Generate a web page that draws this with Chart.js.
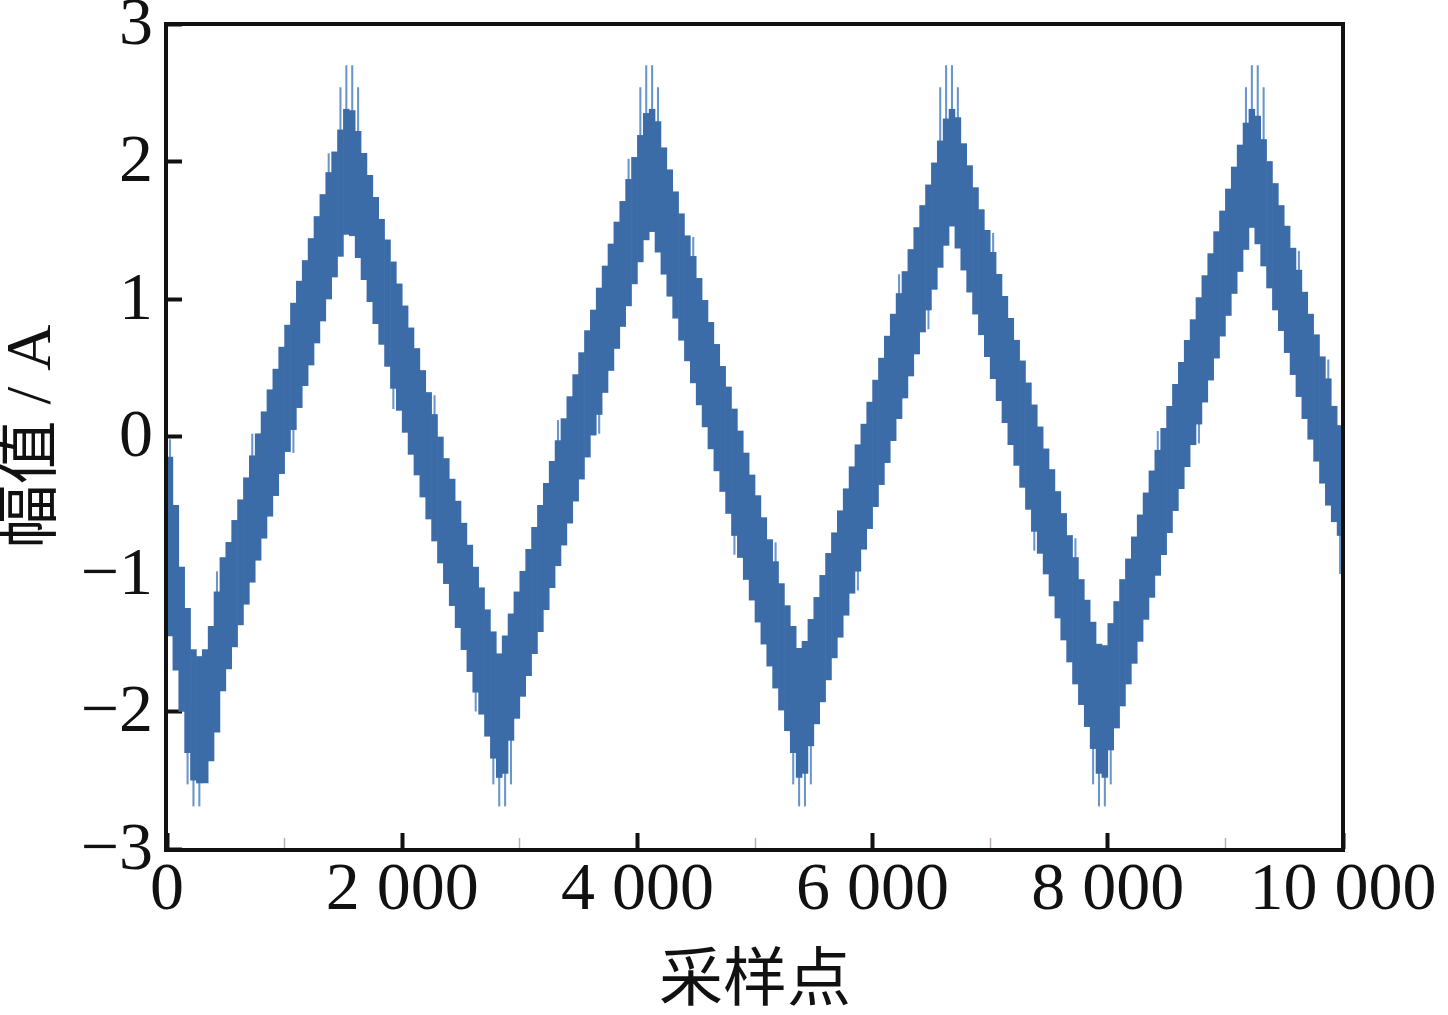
<!DOCTYPE html>
<html>
<head>
<meta charset="utf-8">
<script src="https://cdn.jsdelivr.net/npm/chart.js@4.4.0/dist/chart.umd.min.js"></script>
<style>
  html, body { margin: 0; padding: 0; background: #fff; }
  #wrap { width: 1448px; height: 1015px; }
</style>
</head>
<body>
<div id="wrap"><canvas id="chart" width="1448" height="1015"></canvas></div>
<script>
// signal band in bins of 50 samples (min / max of each bin)
const binWidth = 50;
const binLow = [
  -1.45, -1.70, -2.00, -2.30, -2.50, -2.52, -2.52, -2.36, -2.15, -1.85,
  -1.69, -1.53, -1.37, -1.22, -1.06, -0.90, -0.74, -0.58, -0.43, -0.27,
  -0.11,  0.05,  0.21,  0.37,  0.52,  0.68,  0.84,  1.00,  1.16,  1.31,
   1.47,  1.46,  1.30,  1.14,  0.98,  0.82,  0.67,  0.51,  0.35,  0.19,
   0.03, -0.13, -0.28, -0.44, -0.60, -0.76, -0.92, -1.07, -1.23, -1.39,
  -1.55, -1.71, -1.86, -2.02, -2.18, -2.34, -2.48, -2.45, -2.21, -2.05,
  -1.89, -1.74, -1.58, -1.42, -1.26, -1.10, -0.94, -0.79, -0.63, -0.47,
  -0.31, -0.15,  0.01,  0.16,  0.32,  0.48,  0.64,  0.80,  0.95,  1.11,
   1.27,  1.43,  1.49,  1.34,  1.18,  1.02,  0.86,  0.70,  0.55,  0.39,
   0.23,  0.07, -0.09, -0.25, -0.40, -0.56, -0.72, -0.88, -1.04, -1.19,
  -1.35, -1.51, -1.67, -1.83, -1.99, -2.14, -2.30, -2.48, -2.45, -2.25,
  -2.09, -1.93, -1.77, -1.61, -1.46, -1.30, -1.14, -0.98, -0.82, -0.67,
  -0.51, -0.35, -0.19, -0.03,  0.13,  0.28,  0.44,  0.60,  0.76,  0.92,
   1.07,  1.23,  1.39,  1.53,  1.37,  1.21,  1.05,  0.89,  0.74,  0.58,
   0.42,  0.26,  0.10, -0.06, -0.21, -0.37, -0.53, -0.69, -0.85, -1.00,
  -1.16, -1.32, -1.48, -1.64, -1.80, -1.95, -2.11, -2.27, -2.45, -2.48,
  -2.28, -2.12, -1.96, -1.80, -1.65, -1.49, -1.33, -1.17, -1.01, -0.86,
  -0.70, -0.54, -0.38, -0.22, -0.06,  0.09,  0.25,  0.41,  0.57,  0.73,
   0.88,  1.04,  1.20,  1.36,  1.52,  1.40,  1.24,  1.08,  0.92,  0.77,
   0.61,  0.45,  0.29,  0.13, -0.02, -0.18, -0.34, -0.50, -0.62, -0.72
];
const binHigh = [
  -0.15, -0.50, -0.95, -1.25, -1.55, -1.60, -1.55, -1.38, -1.13, -0.88,
  -0.77, -0.61, -0.46, -0.30, -0.14,  0.02,  0.18,  0.34,  0.49,  0.65,
   0.81,  0.97,  1.13,  1.28,  1.44,  1.60,  1.76,  1.92,  2.07,  2.23,
   2.38,  2.37,  2.22,  2.06,  1.90,  1.74,  1.58,  1.43,  1.27,  1.11,
   0.95,  0.79,  0.64,  0.48,  0.32,  0.16,  0.00, -0.16, -0.31, -0.47,
  -0.63, -0.79, -0.95, -1.10, -1.26, -1.42, -1.58, -1.45, -1.29, -1.13,
  -0.98, -0.82, -0.66, -0.50, -0.34, -0.18, -0.03,  0.13,  0.29,  0.45,
   0.61,  0.77,  0.92,  1.08,  1.24,  1.40,  1.56,  1.71,  1.87,  2.03,
   2.19,  2.35,  2.38,  2.29,  2.10,  1.94,  1.78,  1.62,  1.46,  1.31,
   1.15,  0.99,  0.83,  0.67,  0.51,  0.36,  0.20,  0.04, -0.12, -0.28,
  -0.43, -0.59, -0.75, -0.91, -1.07, -1.23, -1.38, -1.54, -1.49, -1.33,
  -1.17, -1.01, -0.85, -0.70, -0.54, -0.38, -0.22, -0.06,  0.09,  0.25,
   0.41,  0.57,  0.73,  0.89,  1.04,  1.20,  1.36,  1.52,  1.68,  1.83,
   1.99,  2.15,  2.31,  2.38,  2.32,  2.13,  1.97,  1.81,  1.65,  1.50,
   1.34,  1.18,  1.02,  0.86,  0.70,  0.55,  0.39,  0.23,  0.07, -0.09,
  -0.24, -0.40, -0.56, -0.72, -0.88, -1.04, -1.19, -1.35, -1.51, -1.52,
  -1.36, -1.20, -1.04, -0.89, -0.73, -0.57, -0.41, -0.25, -0.10,  0.06,
   0.22,  0.38,  0.54,  0.70,  0.85,  1.01,  1.17,  1.33,  1.49,  1.64,
   1.80,  1.96,  2.12,  2.28,  2.38,  2.33,  2.16,  2.00,  1.84,  1.68,
   1.53,  1.37,  1.21,  1.05,  0.89,  0.74,  0.58,  0.42,  0.22,  0.08
];
// sample index at the middle of each bin
const binCenter = binLow.map((_, i) => i * binWidth + binWidth / 2);

// single noise spikes sticking out of the band (lighter strokes)
const spikeAt = [
  25, 175, 225, 275, 425, 725, 1075, 1375, 1475, 1525, 1575, 1625, 1925, 2275,
  2625, 2775, 2825, 2875, 2925, 3325, 3675, 3925, 4025, 4075, 4125, 4175, 4475, 4825,
  5175, 5325, 5375, 5425, 5475, 5875, 6225, 6475, 6575, 6625, 6675, 6725, 7025, 7375,
  7725, 7875, 7925, 7975, 8025, 8425, 8775, 9175, 9225, 9275, 9325, 9625, 9875, 9975
];
const spikeLow = [
  -0.60, -2.53, -2.69, -2.69, -1.50, -0.45, -0.12, 1.60, 1.90, 2.00, 2.00, 1.90, 0.20, -0.20,
  -2.00, -2.53, -2.69, -2.69, -2.53, -0.40, 0.02, 1.50, 1.90, 2.00, 2.00, 1.90, 0.90, -0.86,
  -1.30, -2.53, -2.69, -2.69, -2.53, -1.12, 0.60, 0.78, 1.90, 2.00, 2.00, 1.90, 0.90, -0.83,
  -1.30, -2.53, -2.69, -2.69, -2.53, -0.50, -0.05, 1.90, 2.00, 2.00, 1.90, 0.80, 0.00, -1.00
];
const spikeHigh = [
  -0.02, -2.00, -2.20, -2.20, -0.98, 0.02, 0.25, 2.06, 2.54, 2.70, 2.70, 2.54, 0.55, 0.30,
  -1.50, -2.10, -2.30, -2.30, -2.00, 0.12, 0.45, 2.02, 2.54, 2.70, 2.70, 2.54, 1.45, -0.30,
  -0.77, -2.10, -2.30, -2.30, -2.00, -0.60, 1.18, 1.20, 2.54, 2.70, 2.70, 2.54, 1.48, -0.30,
  -0.74, -2.10, -2.30, -2.30, -2.00, 0.04, 0.40, 2.54, 2.70, 2.70, 2.54, 1.35, 0.56, -0.50
];

const xTickValues = [0, 2000, 4000, 6000, 8000, 10000];
const xTickLabels = ['0', '2 000', '4 000', '6 000', '8 000', '10 000'];
const yTickValues = [-3, -2, -1, 0, 1, 2, 3];
const yTickLabels = ['\u22123', '\u22122', '\u22121', '0', '1', '2', '3'];

const SERIF = "'Liberation Serif', 'Times New Roman', 'Noto Sans CJK SC', serif";
const INK = '#111';

const bandBars = binLow.map((lo, i) => ({ x: binCenter[i], y: [lo, binHigh[i]] }));
const spikeBars = spikeAt.map((x, i) => ({ x: x, y: [spikeLow[i], spikeHigh[i]] }));

// black box round the plot area
const framePlugin = {
  id: 'frame',
  afterDraw(chart) {
    const { ctx, chartArea: a } = chart;
    ctx.save();
    ctx.strokeStyle = INK;
    ctx.lineWidth = 4;
    ctx.strokeRect(a.left - 1, a.top, a.right - a.left + 1, a.bottom - a.top + 1);
    ctx.restore();
  }
};

new Chart(document.getElementById('chart'), {
  type: 'bar',
  data: {
    datasets: [
      {
        label: 'band',
        data: bandBars,
        backgroundColor: 'rgb(60, 108, 168)',
        borderWidth: 0,
        grouped: false,
        categoryPercentage: 1,
        barPercentage: 1,
        order: 0
      },
      {
        label: 'spikes',
        data: spikeBars,
        backgroundColor: 'rgba(88, 138, 198, 0.9)',
        borderWidth: 0,
        grouped: false,
        categoryPercentage: 1,
        barPercentage: 0.35,
        order: 1
      }
    ]
  },
  options: {
    responsive: false,
    animation: false,
    layout: { padding: { left: 0, right: 105, top: 24, bottom: 0 } },
    plugins: {
      legend: { display: false },
      tooltip: { enabled: false }
    },
    scales: {
      xMinor: {
        type: 'linear',
        position: 'bottom',
        weight: 0,
        min: 0,
        max: 10000,
        offset: false,
        ticks: { display: false, stepSize: 1000 },
        grid: {
          offset: false,
          drawOnChartArea: false,
          tickLength: -11,
          tickWidth: 1.5,
          tickColor: (c) => (c.tick && c.tick.value % 2000 !== 0) ? '#bdaeae' : 'rgba(0,0,0,0)'
        },
        border: { display: false },
        afterFit: (s) => { s.height = 0; s.paddingLeft = 0; s.paddingRight = 0; }
      },
      x: {
        type: 'linear',
        position: 'bottom',
        weight: 1,
        min: 0,
        max: 10000,
        offset: false,
        ticks: {
          stepSize: 2000,
          autoSkip: false,
          maxRotation: 0,
          minRotation: 0,
          padding: 24,
          color: INK,
          font: { family: SERIF, size: 68, lineHeight: 1 },
          callback: (v) => xTickLabels[xTickValues.indexOf(v)]
        },
        grid: { offset: false, drawOnChartArea: false, tickLength: -16, tickWidth: 4, tickColor: INK },
        border: { display: false },
        title: {
          display: true,
          text: '采样点',
          color: INK,
          font: { family: SERIF, size: 64, lineHeight: 1 },
          padding: { top: 0, bottom: 0 }
        },
        afterFit: (s) => { s.height = 166; s.paddingLeft = 0; s.paddingRight = 0; }
      },
      y: {
        type: 'linear',
        position: 'left',
        min: -3,
        max: 3,
        ticks: {
          stepSize: 1,
          padding: 29,
          labelOffset: 2,
          color: INK,
          font: { family: SERIF, size: 68, lineHeight: 0.7 },
          callback: (v) => yTickLabels[yTickValues.indexOf(v)]
        },
        grid: { drawOnChartArea: false, tickLength: -15, tickWidth: 4, tickColor: INK },
        border: { display: false },
        title: {
          display: true,
          text: '幅值 / A',
          color: INK,
          font: { family: SERIF, size: 64, lineHeight: 1 },
          padding: { top: 1, bottom: 0 }
        },
        afterFit: (s) => { s.width = 167; s.paddingTop = 0; s.paddingBottom = 0; }
      }
    }
  },
  plugins: [framePlugin]
});
</script>
</body>
</html>
